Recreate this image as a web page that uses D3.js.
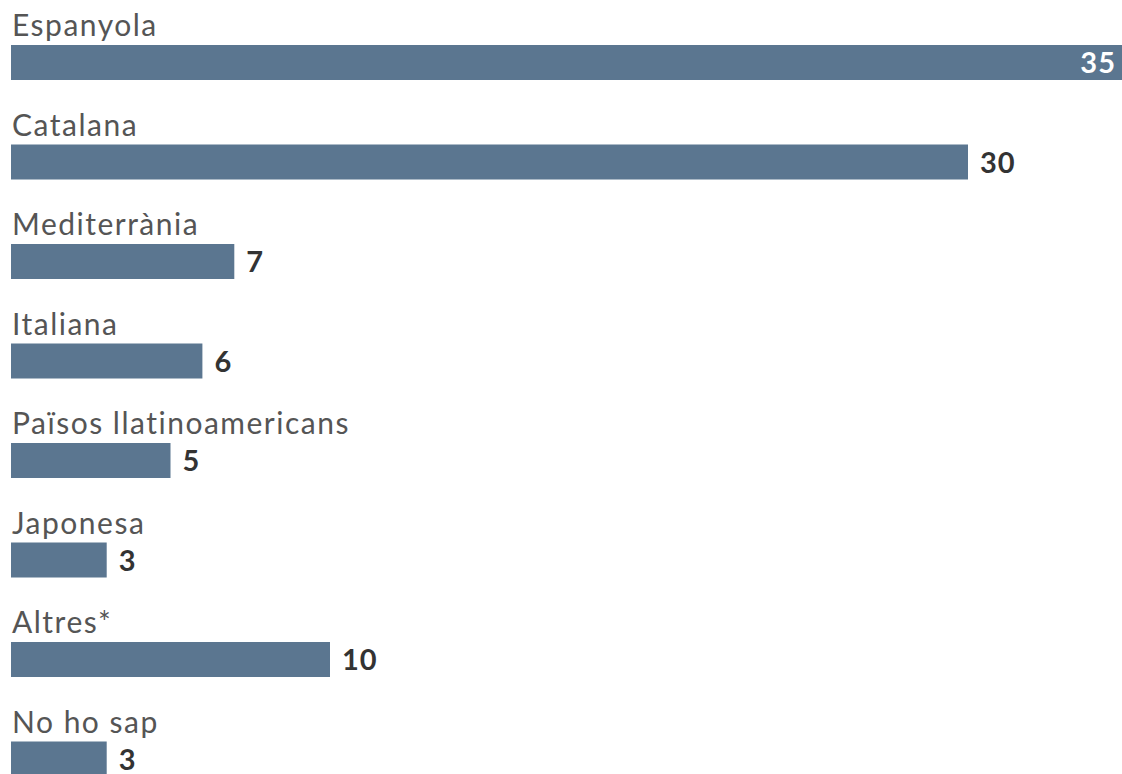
<!DOCTYPE html>
<html><head><meta charset="utf-8">
<script src="https://cdn.jsdelivr.net/npm/d3@7"></script>
<style>body{margin:0;background:#fff}svg{display:block}</style>
</head><body>
<script>
const categories = ["Espanyola","Catalana","Mediterrània","Italiana","Països llatinoamericans","Japonesa","Altres*","No ho sap"];
const values = [35,30,7,6,5,3,10,3];

const W = 1122, H = 774;
const svg = d3.select("body").append("svg").attr("width", W).attr("height", H);

const x = d3.scaleLinear().domain([0, 10]).range([11, 330]);
const y = d3.scaleBand().domain(categories).range([-4.5, -4.5 + 99.5 * categories.length]).paddingInner(0);

const rows = svg.selectAll("g.row").data(categories.map((c, i) => ({c, v: values[i]})))
  .join("g").attr("class", "row").attr("transform", d => `translate(0,${y(d.c)})`);

rows.append("text")
  .attr("x", 12).attr("y", 40.5)
  .attr("font-family", "Lato, 'Open Sans', sans-serif")
  .attr("font-size", 30).attr("fill", "#555")
  .attr("letter-spacing", 1.5)
  .text(d => d.c);

rows.append("rect")
  .attr("x", x(0)).attr("y", 49.5).attr("height", 35)
  .attr("width", d => x(d.v) - x(0))
  .attr("fill", "#5b7690");

rows.append("text")
  .attr("y", 77.5)
  .attr("x", d => x(d.v) > W ? W - 6 : x(d.v) + 12)
  .attr("text-anchor", d => x(d.v) > W ? "end" : "start")
  .attr("font-family", "Lato, 'Open Sans', sans-serif")
  .attr("font-weight", "bold").attr("font-size", 29)
  .attr("letter-spacing", 1)
  .attr("fill", d => x(d.v) > W ? "#fff" : "#333")
  .text(d => d.v);
</script>
</body></html>
